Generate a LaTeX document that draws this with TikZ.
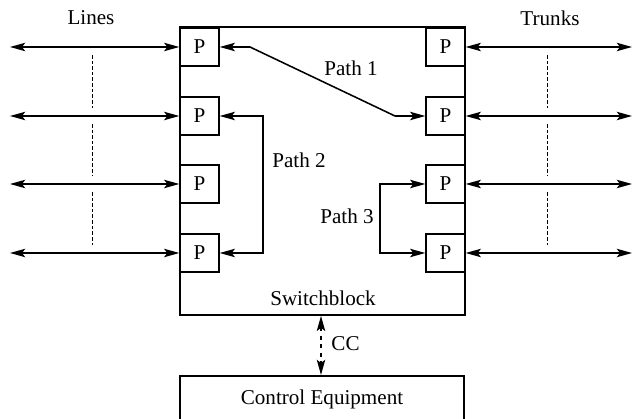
\documentclass[tikz,border=0pt]{standalone}
\usepackage{fontspec}
\setmainfont{Liberation Serif}
\usetikzlibrary{arrows.meta}

\begin{document}
\begin{tikzpicture}[x=0.025cm,y=-0.025cm,line width=1.1pt,
	portbox/.style={draw,minimum width=0.97cm,minimum height=0.95cm,inner sep=0pt},
	link/.style={{Stealth[length=3.8mm,width=2.1mm,inset=0.8mm]}-{Stealth[length=3.8mm,width=2.1mm,inset=0.8mm]}},
	guide/.style={line width=0.6pt,dash pattern=on 2.5pt off 1.5pt}]
\newcommand{\myfonttext}[1]{
\fontsize{15}{18}\selectfont{#1}
}%Page size
\clip (0,0) rectangle (632,419);
%Switchblock and control equipment
\node [draw,minimum width=7.125cm,minimum height=7.2cm] (sb) at (322.5,171) {};
\node [] (sbtext) at (323,298) {\myfonttext{Switchblock}};
\node [draw,minimum width=7.1cm,minimum height=1.2cm,anchor=north] (ctrl) at (322,375) {\myfonttext{Control Equipment}};
%Ports, lines and trunks
\foreach \i/\y in {1/47,2/116,3/184,4/253} {
	\node [portbox] (lp\i) at (199.5,\y) {\myfonttext{P}};
	\node [portbox] (rp\i) at (445.5,\y) {\myfonttext{P}};
	\coordinate (lend\i) at (10,\y);
	\coordinate (rend\i) at (632,\y);
	\draw [link] (lend\i) -- (lp\i);
	\draw [link] (rp\i) -- (rend\i);
}
%Dotted lines between the arrows
\foreach \a/\b in {55/108,124/176,192/245} {
	\draw [guide] (92,\a) -- (92,\b);
	\draw [guide] (547,\a) -- (547,\b);
}
\node [] (lines) at (91,18) {\myfonttext{Lines}};
\node [] (trunks) at (550,18) {\myfonttext{Trunks}};
%Path 1
\coordinate (pa1) at (250,47);
\coordinate (pa2) at (395,116);
\draw [link] (lp1.east) -- (pa1) -- (pa2) -- (rp2.west);
\node [] (path1) at (351,68) {\myfonttext{Path 1}};
%Path 2
\coordinate (pb1) at (263,116);
\coordinate (pb2) at (263,253);
\draw [link] (lp2.east) -- (pb1) -- (pb2) -- (lp4.east);
\node [] (path2) at (299,160) {\myfonttext{Path 2}};
%Path 3
\coordinate (pc1) at (380,184);
\coordinate (pc2) at (380,253);
\draw [link] (rp3.west) -- (pc1) -- (pc2) -- (rp4.west);
\node [] (path3) at (347,216) {\myfonttext{Path 3}};
%Control channel
\draw [link,dashed] (sb.south -| 321,0) -- (ctrl.north -| 321,0);
\node [anchor=west] (cc) at (326,344) {\myfonttext{CC}};
\end{tikzpicture}
\end{document}
